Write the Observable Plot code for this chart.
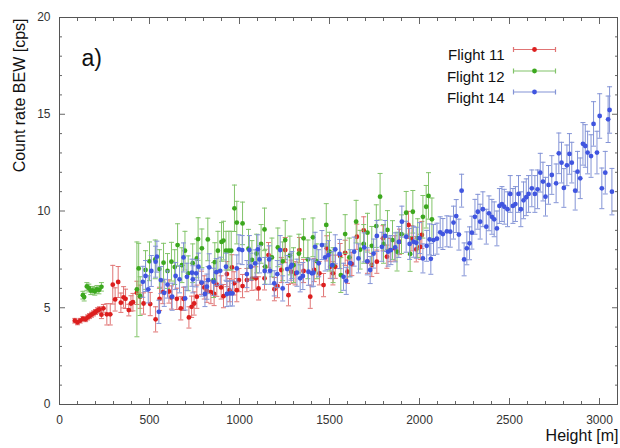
<!DOCTYPE html>
<html><head><meta charset="utf-8">
<script src="https://cdn.jsdelivr.net/npm/d3@7"></script>
<script src="https://cdn.jsdelivr.net/npm/@observablehq/plot@0.6"></script>
<style>body{margin:0;background:#fff}#chart{width:620px;height:448px}</style>
</head><body><div id="chart"></div>
<script>
// [height m, count rate cps, error cps]
const flight11 = [[85,4.33,0.12],[100,4.24,0.12],[115,4.33,0.12],[130,4.43,0.12],[145,4.40,0.12],[156,4.50,0.13],[167,4.57,0.13],[178,4.64,0.13],[189,4.71,0.13],[200,4.78,0.13],[211,4.86,0.14],[222,4.91,0.14],[233,4.64,0.2],[244,4.97,0.2],[263,4.66,0.55],[282,4.66,0.55],[296,6.19,1.0],[309,5.43,0.6],[326,6.33,0.8],[341,5.26,0.5],[356,5.54,0.55],[367,5.46,0.5],[385,4.88,0.3],[397,5.22,0.4],[408,5.29,0.45],[430,5.77,0.6],[448,5.57,0.6],[467,5.22,0.55],[504,5.19,0.6],[534,4.40,0.65],[556,5.46,0.6],[574,5.81,0.6],[608,5.84,0.6],[622,5.53,0.6],[652,5.46,0.55],[674,4.97,0.6],[689,5.46,0.6],[719,4.50,0.55],[734,5.05,0.55],[748,5.22,0.6],[763,5.57,0.6],[789,6.29,0.6],[804,6.05,0.6],[819,5.88,0.6],[841,5.81,0.6],[859,5.71,0.6],[874,6.19,0.6],[898,6.05,0.6],[911,5.60,0.6],[930,6.74,0.65],[944,5.91,0.6],[958,7.09,0.65],[970,6.26,0.6],[985,5.91,0.6],[997,6.43,0.6],[1017,6.12,0.6],[1041,6.43,0.6],[1069,6.50,0.6],[1091,6.52,0.6],[1106,6.00,0.6],[1139,6.52,0.6],[1161,7.72,0.65],[1194,5.96,0.6],[1211,6.12,0.6],[1232,6.95,0.65],[1254,7.98,0.65],[1272,5.65,0.55],[1287,6.86,0.6],[1309,6.78,0.6],[1333,7.98,0.65],[1356,6.9,0.6],[1393,5.57,0.6],[1415,6.95,0.6],[1444,6.78,0.6],[1467,6.17,0.6],[1485,8.07,0.65],[1504,7.12,0.6],[1519,6.78,0.6],[1532,7.12,0.6],[1559,7.67,0.65],[1587,7.84,0.65],[1600,6.86,0.6],[1624,7.26,0.6],[1652,8.67,0.65],[1690,9.0,0.7],[1711,7.38,0.6],[1735,7.21,0.6],[1763,7.38,0.6],[1797,8.59,0.65],[1819,7.64,0.6],[1837,7.98,0.6],[1863,8.07,0.65],[1889,8.41,0.65],[1939,9.28,0.7],[1958,8.59,0.65],[1982,8.02,0.65],[2004,8.15,0.65],[2013,8.76,0.7]];

const flight12 = [[130,5.65,0.2],[137,5.55,0.2],[152,6.10,0.2],[163,6.02,0.2],[174,5.88,0.2],[185,5.90,0.2],[196,5.85,0.2],[208,5.95,0.2],[219,5.92,0.2],[233,6.08,0.22],[430,5.95,2.45],[440,7.03,1.3],[448,5.60,1.0],[478,6.95,1.0],[500,7.4,1.0],[532,7.50,1.0],[555,7.0,1.0],[578,7.33,1.0],[600,6.9,0.9],[622,7.38,1.0],[640,7.1,0.9],[656,8.24,1.1],[680,7.2,0.9],[697,7.95,1.0],[715,6.78,0.9],[740,7.3,1.0],[763,7.55,1.0],[770,8.55,1.1],[791,8.07,1.0],[824,8.53,1.1],[856,6.43,0.9],[863,7.36,1.0],[880,7.95,1.0],[900,8.40,1.0],[911,8.47,1.0],[925,7.95,1.0],[941,7.95,1.0],[954,7.95,1.0],[972,10.14,1.2],[985,9.40,1.1],[1017,9.36,1.1],[1050,8.05,1.0],[1069,7.47,1.0],[1095,7.8,1.0],[1120,8.3,1.0],[1139,9.05,1.1],[1143,7.12,0.9],[1180,7.6,1.0],[1213,8.12,1.0],[1240,7.4,1.0],[1254,8.50,1.0],[1280,7.7,1.0],[1300,7.2,0.9],[1330,7.8,1.0],[1356,8.59,1.0],[1380,7.5,1.0],[1408,8.64,1.0],[1430,7.4,0.9],[1482,9.28,1.1],[1500,7.9,1.0],[1520,7.2,0.9],[1563,6.69,0.9],[1587,8.81,1.0],[1610,7.6,1.0],[1648,9.45,1.1],[1670,8.0,1.0],[1690,8.3,1.0],[1711,8.88,1.0],[1735,8.2,1.0],[1760,9.22,1.1],[1781,10.74,1.2],[1800,8.3,1.0],[1822,9.02,1.0],[1850,8.5,1.0],[1875,7.9,1.0],[1900,8.8,1.0],[1926,9.91,1.1],[1948,7.78,0.9],[1963,9.96,1.1],[1990,8.6,1.0],[2019,9.70,1.1],[2037,10.22,1.1],[2050,10.78,1.2],[2069,9.57,1.1]];

const flight14 = [[463,6.34,0.8],[478,6.64,0.8],[493,5.95,0.7],[510,6.9,0.8],[534,7.38,0.8],[541,7.64,0.8],[552,4.79,0.6],[563,6.43,0.7],[582,5.77,0.7],[600,6.2,0.7],[626,5.57,0.7],[645,6.64,0.7],[667,6.47,0.7],[689,7.60,0.75],[698,5.48,0.6],[708,6.60,0.7],[736,6.81,0.7],[741,6.47,0.7],[759,6.78,0.7],[772,7.12,0.7],[790,6.3,0.7],[808,5.71,0.65],[819,6.09,0.65],[826,6.43,0.7],[832,7.09,0.7],[856,6.34,0.7],[871,6.84,0.7],[893,6.91,0.7],[925,7.12,0.7],[930,5.71,0.65],[948,5.74,0.65],[961,5.74,0.65],[985,7.03,0.7],[997,8.02,0.75],[1015,7.98,0.75],[1041,6.74,0.7],[1055,7.98,0.75],[1063,7.12,0.7],[1087,7.29,0.7],[1102,8.02,0.75],[1111,7.5,0.7],[1140,6.9,0.7],[1165,7.5,0.7],[1170,6.91,0.7],[1193,6.26,0.65],[1210,6.74,0.7],[1226,7.98,0.75],[1240,6.0,0.65],[1265,7.0,0.7],[1285,7.12,0.7],[1291,7.21,0.7],[1319,6.81,0.7],[1337,6.52,0.7],[1352,6.64,0.7],[1383,6.86,0.7],[1402,6.78,0.7],[1411,6.81,0.7],[1420,8.15,0.75],[1440,7.3,0.7],[1458,8.24,0.75],[1476,7.6,0.7],[1494,7.72,0.75],[1515,7.2,0.7],[1532,8.02,0.75],[1556,7.78,0.75],[1578,6.6,0.7],[1593,6.39,0.7],[1615,7.3,0.7],[1637,7.9,0.75],[1661,7.55,0.75],[1693,8.12,0.75],[1710,7.4,0.7],[1726,6.95,0.7],[1745,7.8,0.75],[1763,8.71,0.8],[1791,8.15,0.75],[1809,8.71,0.8],[1825,7.9,0.75],[1841,7.98,0.75],[1865,8.12,0.75],[1885,8.4,0.8],[1902,9.45,0.8],[1926,8.67,0.8],[1945,8.3,0.8],[1967,8.41,0.8],[1982,8.36,0.8],[2000,8.6,0.8],[2019,7.55,0.75],[2040,8.2,0.8],[2056,8.53,0.8],[2063,7.53,0.8],[2078,8.5,0.8],[2097,8.57,0.8],[2115,8.90,0.8],[2130,8.81,0.8],[2152,8.95,0.8],[2171,8.93,0.8],[2189,9.40,0.85],[2204,9.74,0.85],[2219,8.78,0.8],[2234,11.05,0.85],[2248,7.50,0.85],[2263,8.07,0.85],[2278,8.33,0.85],[2291,8.88,0.85],[2308,9.70,0.9],[2324,9.96,0.9],[2337,9.45,0.9],[2352,10.09,0.9],[2371,9.19,0.9],[2386,9.88,0.9],[2402,9.70,0.9],[2415,9.57,0.9],[2430,9.10,0.9],[2444,10.26,0.9],[2458,10.36,0.9],[2471,10.22,0.9],[2489,10.09,0.9],[2504,10.88,0.95],[2519,10.26,0.9],[2533,10.36,0.9],[2550,10.88,0.95],[2563,10.09,0.9],[2578,10.55,0.95],[2593,10.71,0.95],[2606,10.88,0.95],[2624,11.17,0.95],[2641,10.88,0.95],[2656,11.12,1.0],[2671,11.98,1.0],[2686,11.52,1.0],[2700,10.74,1.0],[2717,11.35,1.0],[2735,11.86,1.0],[2759,11.43,1.0],[2774,12.98,1.05],[2789,12.50,1.05],[2802,11.19,1.0],[2819,12.36,1.05],[2833,12.95,1.05],[2846,12.50,1.05],[2865,11.05,1.0],[2878,12.03,1.05],[2893,11.69,1.05],[2908,13.47,1.1],[2921,13.36,1.1],[2934,13.02,1.1],[2953,12.84,1.1],[2967,14.50,1.15],[2986,13.02,1.1],[3001,14.91,1.15],[3013,11.17,1.05],[3032,11.98,1.1],[3048,14.74,1.2],[3056,15.22,1.2],[3069,11.00,1.2]];

const seriesNames = ["Flight 11", "Flight 12", "Flight 14"];
const dotColors = ["#dc1e1e", "#3ca81e", "#4055e0"];
const barColors = ["#e07474", "#82c46a", "#8494d6"];
const xMajorTicks = [0, 500, 1000, 1500, 2000, 2500, 3000];
const yMajorTicks = [0, 5, 10, 15, 20];
const xMinorTicks = d3.range(0, 3101, 100).filter(v => v % 500 !== 0);
const yMinorTicks = d3.range(0, 21, 1).filter(v => v % 5 !== 0);

const series = [flight11, flight12, flight14].map((arr, i) =>
  arr.map(([x, y, e]) => ({x, y, e, s: seriesNames[i]})));

const capSym = {draw(ctx) { ctx.moveTo(-2.5, 0); ctx.lineTo(2.5, 0); }};
const legendSym = {draw(ctx) {
  ctx.moveTo(-21, 0); ctx.lineTo(21, 0);
  ctx.moveTo(-21, -2.5); ctx.lineTo(-21, 2.5);
  ctx.moveTo(21, -2.5); ctx.lineTo(21, 2.5);
}};

const marks = [];
series.forEach((rows, i) => {
  marks.push(Plot.ruleX(rows, {x: "x", y1: d => d.y - d.e, y2: d => d.y + d.e, stroke: barColors[i], strokeWidth: 1}));
  marks.push(Plot.dot(rows, {x: "x", y: d => d.y + d.e, symbol: capSym, stroke: barColors[i], fill: "none", strokeWidth: 1}));
  marks.push(Plot.dot(rows, {x: "x", y: d => d.y - d.e, symbol: capSym, stroke: barColors[i], fill: "none", strokeWidth: 1}));
  marks.push(Plot.dot(rows, {x: "x", y: "y", r: 2.4, fill: dotColors[i], stroke: "none"}));
});

const legendDy = [32, 53.5, 74.5];
seriesNames.forEach((s, i) => {
  marks.push(Plot.text([s], {frameAnchor: "top-left", text: d => d, textAnchor: "end", dx: 445, dy: legendDy[i], fontSize: 15, fill: "#111"}));
  marks.push(Plot.dot([s], {frameAnchor: "top-left", symbol: legendSym, stroke: barColors[i], strokeWidth: 1.2, fill: "none", dx: 475, dy: legendDy[i]}));
  marks.push(Plot.dot([s], {frameAnchor: "top-left", r: 2.4, fill: dotColors[i], dx: 475, dy: legendDy[i]}));
});

const none = () => "";
const fmt = d3.format("d");
const chart = Plot.plot({
  width: 620, height: 448,
  marginLeft: 59, marginRight: 3, marginTop: 17, marginBottom: 44,
  style: {fontFamily: "'Liberation Sans', Arial, sans-serif", fontSize: "12px", color: "#333", background: "#fff"},
  x: {domain: [0, 3100]},
  y: {domain: [0, 20]},
  marks: [
    ...marks,
    Plot.axisX({anchor: "bottom", ticks: xMajorTicks, tickSize: -6, tickPadding: 17, tickFormat: fmt, label: null, stroke: "#666", fill: "#333"}),
    Plot.axisX({anchor: "bottom", ticks: xMinorTicks, tickSize: -3, tickFormat: none, label: null, stroke: "#666"}),
    Plot.axisX({anchor: "top", ticks: xMajorTicks, tickSize: -6, tickFormat: none, label: null, stroke: "#666"}),
    Plot.axisX({anchor: "top", ticks: xMinorTicks, tickSize: -3, tickFormat: none, label: null, stroke: "#666"}),
    Plot.axisY({anchor: "left", ticks: yMajorTicks, tickSize: -6, tickPadding: 15, tickFormat: fmt, label: null, stroke: "#666", fill: "#333"}),
    Plot.axisY({anchor: "left", ticks: yMinorTicks, tickSize: -3, tickFormat: none, label: null, stroke: "#666"}),
    Plot.axisY({anchor: "right", ticks: yMajorTicks, tickSize: -6, tickFormat: none, label: null, stroke: "#666"}),
    Plot.axisY({anchor: "right", ticks: yMinorTicks, tickSize: -3, tickFormat: none, label: null, stroke: "#666"}),
    Plot.frame({stroke: "#555"}),
    Plot.text(["a)"], {frameAnchor: "top-left", text: d => d, textAnchor: "start", dx: 22, dy: 32, fontSize: 23, fill: "#111"}),
    Plot.text(["Count rate BEW [cps]"], {frameAnchor: "top-left", text: d => d, rotate: -90, textAnchor: "end", dx: -46, dy: 1, fontSize: 16, fill: "#111"}),
    Plot.text(["Height [m]"], {frameAnchor: "bottom-right", text: d => d, textAnchor: "end", dx: 1, dy: 36, fontSize: 16, fill: "#111"})
  ]
});
document.getElementById("chart").appendChild(chart);
</script>
</body></html>
